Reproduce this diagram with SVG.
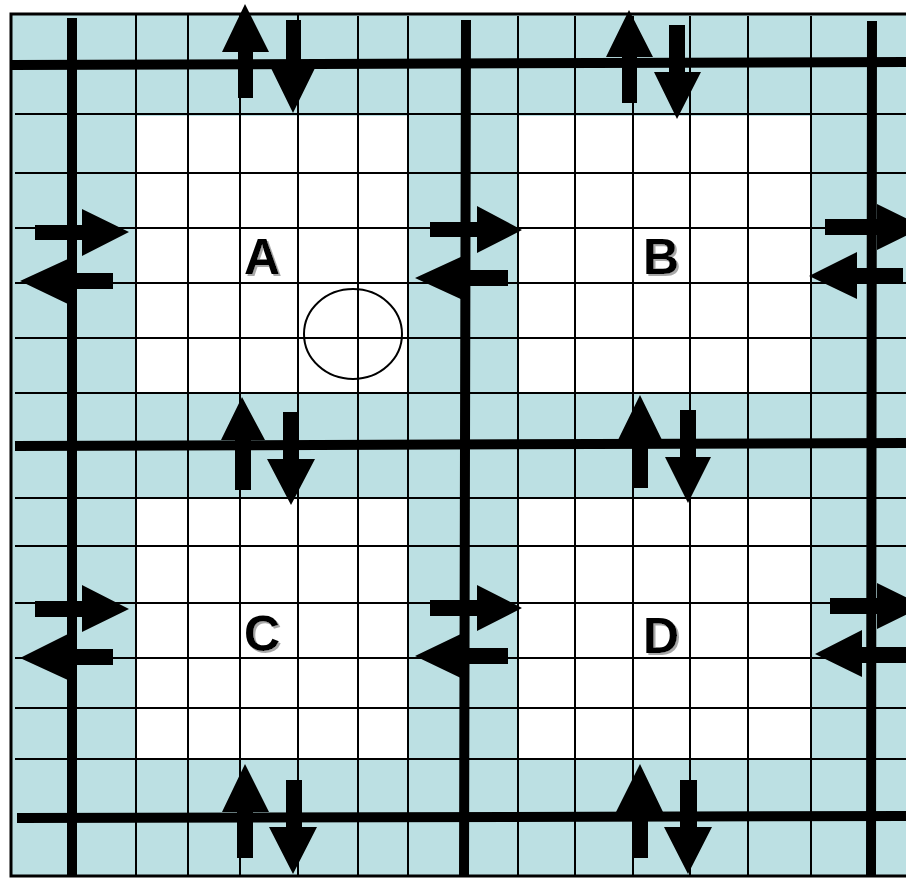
<svg xmlns="http://www.w3.org/2000/svg" width="906" height="878" viewBox="0 0 906 878">
<style>
.thin{stroke:#000;stroke-width:2;fill:none}
.thick{stroke:#000;stroke-width:10;fill:none}
.arr{fill:#000}
.lbl{font-family:"Liberation Sans",Arial,sans-serif;font-weight:bold;font-size:50px;text-anchor:middle;fill:#000;filter:url(#shadow)}
</style>
<defs>
<filter id="shadow" x="-20%" y="-20%" width="150%" height="150%">
<feOffset in="SourceAlpha" dx="2" dy="2" result="off"/>
<feFlood flood-color="#A8A8A8"/>
<feComposite in2="off" operator="in" result="sh"/>
<feMerge><feMergeNode in="sh"/><feMergeNode in="SourceGraphic"/></feMerge>
</filter>
</defs>
<rect x="0" y="0" width="906" height="878" fill="#fff"/>
<g id="background">
<rect x="11" y="14" width="900" height="862" fill="#BCE0E3"/>
<rect x="136" y="116" width="272" height="277" fill="#fff"/>
<rect x="518" y="116" width="293" height="277" fill="#fff"/>
<rect x="136" y="499" width="272" height="260" fill="#fff"/>
<rect x="518" y="499" width="293" height="260" fill="#fff"/>
</g>
<g id="grid">
<path class="thin" d="M136 14V876M188 14V876M240 14V876M298 14V876M358 16V876M408 16V876M518 16V876M575 16V876M633 16V876M690 16V876M748 16V876M811 16V876"/>
<path class="thin" d="M15 114H906M15 173H906M15 228H906M15 283H906M15 338H906M15 393H906M15 498H906M15 546H906M15 603H906M15 658H906M15 708H906M15 759H906"/>
<path stroke="#000" stroke-width="3" fill="none" d="M906 14H11V876H906"/>
</g>
<g id="connectors">
<path class="thick" d="M11 65L906 62M15 446L906 443M17 818L906 816"/>
<path class="thick" d="M72 18V876M466 20L464 876M872 21L871 876"/>
</g>
<g id="marker-circle">
<ellipse cx="353" cy="334" rx="49" ry="45" fill="none" stroke="#000" stroke-width="2"/>
</g>
<g id="arrows-vertical">
<polygon class="arr" points="245,4 269,52 253,52 253,98 238,98 238,52 222,52"/>
<polygon class="arr" points="286,20 301,20 301,66 316,66 293,113 270,66 286,66"/>
<polygon class="arr" points="629,10 653,57 637,57 637,103 622,103 622,57 606,57"/>
<polygon class="arr" points="669,25 685,25 685,72 701,72 677,119 654,72 669,72"/>
<polygon class="arr" points="242,397 265,440 251,440 251,490 235,490 235,440 221,440"/>
<polygon class="arr" points="283,412 298,412 298,459 315,459 291,505 267,459 283,459"/>
<polygon class="arr" points="640,395 663,442 648,442 648,488 633,488 633,442 617,442"/>
<polygon class="arr" points="680,410 696,410 696,457 711,457 688,503 665,457 680,457"/>
<polygon class="arr" points="245,764 269,812 253,812 253,858 237,858 237,812 222,812"/>
<polygon class="arr" points="286,780 302,780 302,827 317,827 293,874 269,827 286,827"/>
<polygon class="arr" points="640,764 663,812 648,812 648,858 633,858 633,812 616,812"/>
<polygon class="arr" points="680,780 697,780 697,827 712,827 688,874 664,827 680,827"/>
</g>
<g id="arrows-horizontal">
<polygon class="arr" points="35,225 82,225 82,209 129,232 82,256 82,240 35,240"/>
<polygon class="arr" points="20,281 70,258 70,273 113,273 113,289 70,289 70,305"/>
<polygon class="arr" points="430,222 477,222 477,206 522,230 477,253 477,237 430,237"/>
<polygon class="arr" points="415,278 465,255 465,270 508,270 508,286 465,286 465,301"/>
<polygon class="arr" points="825,219 877,219 877,204 924,227 877,250 877,235 825,235"/>
<polygon class="arr" points="809,276 857,252 857,268 903,268 903,283 857,283 857,299"/>
<polygon class="arr" points="35,601 82,601 82,585 129,609 82,632 82,617 35,617"/>
<polygon class="arr" points="20,658 70,633 70,649 113,649 113,665 70,665 70,681"/>
<polygon class="arr" points="430,600 477,600 477,585 522,608 477,631 477,616 430,616"/>
<polygon class="arr" points="415,656 465,632 465,648 508,648 508,664 465,664 465,680"/>
<polygon class="arr" points="830,598 877,598 877,583 924,606 877,629 877,614 830,614"/>
<polygon class="arr" points="815,654 862,630 862,647 906,647 906,663 862,663 862,677"/>
</g>
<g id="node-A"><text class="lbl" x="262" y="274">A</text></g>
<g id="node-B"><text class="lbl" x="661" y="274">B</text></g>
<g id="node-C"><text class="lbl" x="262" y="651">C</text></g>
<g id="node-D"><text class="lbl" x="661" y="653">D</text></g>
</svg>
